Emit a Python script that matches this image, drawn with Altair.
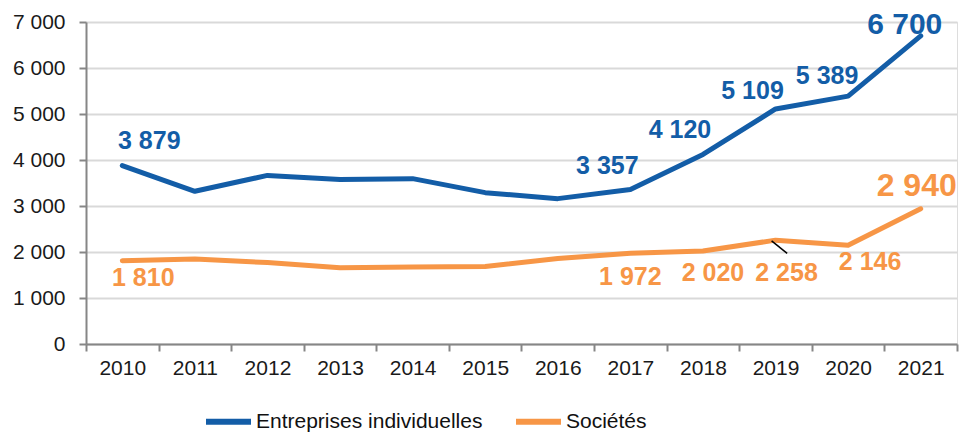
import altair as alt
import pandas as pd

# ---- data ----
years = [str(y) for y in range(2010, 2022)]
entreprises = [3879, 3320, 3665, 3575, 3595, 3290, 3160, 3357, 4120, 5109, 5389, 6700]
societes = [1810, 1850, 1770, 1660, 1675, 1685, 1860, 1972, 2020, 2258, 2146, 2940]
series_names = ["Entreprises individuelles", "Sociétés"]
series_colors = ["#135da7", "#f79646"]
y_ticks = [0, 1000, 2000, 3000, 4000, 5000, 6000, 7000]
labelled_ent = ["2010", "2017", "2018", "2019", "2020", "2021"]
labelled_soc = ["2010", "2017", "2018", "2019", "2020", "2021"]

rows = []
for name, vals in zip(series_names, [entreprises, societes]):
    for y, v in zip(years, vals):
        rows.append({"year": y, "value": v, "series": name,
                     "label": f"{v:,}".replace(",", " ")})
df = pd.DataFrame(rows)

FONT = "Liberation Sans"

# label placement (style, not data)
offsets = {
    (series_names[0], "2010"): (27, -25, 25),
    (series_names[0], "2017"): (-23, -24, 25),
    (series_names[0], "2018"): (-23, -24, 25),
    (series_names[0], "2019"): (-23, -18, 25),
    (series_names[0], "2020"): (-21, -20, 25),
    (series_names[0], "2021"): (-16, -11, 30),
    (series_names[1], "2010"): (21, 17, 25),
    (series_names[1], "2017"): (0, 24, 25),
    (series_names[1], "2018"): (10, 22, 25),
    (series_names[1], "2019"): (11, 33, 25),
    (series_names[1], "2020"): (22, 17, 25),
    (series_names[1], "2021"): (-4, -23, 32),
}

color_scale = alt.Scale(domain=series_names, range=series_colors)

base = alt.Chart(df)

lines = base.mark_line(strokeWidth=5, strokeCap="round", strokeJoin="round").encode(
    x=alt.X("year:O",
            scale=alt.Scale(paddingInner=0, paddingOuter=0),
            axis=alt.Axis(title=None, labelAngle=0, tickBand="extent",
                          tickSize=7, tickColor="#868686", tickWidth=2,
                          domainColor="#868686", domainWidth=2,
                          labelFont=FONT, labelFontSize=21, labelColor="#1a1a1a",
                          labelPadding=6, grid=False)),
    y=alt.Y("value:Q",
            scale=alt.Scale(domain=[0, 7000], nice=False),
            axis=alt.Axis(title=None, values=y_ticks,
                          labelExpr="replace(format(datum.value, ',d'), ',', ' ')",
                          tickSize=7, tickColor="#868686", tickWidth=2,
                          domainColor="#868686", domainWidth=2,
                          gridColor="#d9d9d9", gridWidth=2,
                          labelFont=FONT, labelFontSize=21, labelColor="#1a1a1a",
                          labelPadding=14)),
    color=alt.Color("series:N", scale=color_scale,
                    legend=alt.Legend(title=None, orient="none", direction="horizontal",
                                      legendX=117, legendY=374,
                                      symbolType="stroke", symbolSize=2025,
                                      symbolStrokeWidth=6, labelLimit=400,
                                      labelFont=FONT, labelFontSize=21, labelColor="#111111",
                                      labelOffset=2, columnPadding=21)),
)

layers = [lines]
for name, col, yrs in [(series_names[0], series_colors[0], labelled_ent),
                       (series_names[1], series_colors[1], labelled_soc)]:
    for yr in yrs:
        dx, dy, fs = offsets[(name, yr)]
        layers.append(
            base.transform_filter(
                (alt.datum.series == name) & (alt.datum.year == yr)
            ).mark_text(dx=dx, dy=dy, fontSize=fs, fontWeight="bold", font=FONT,
                        color=col, align="center", baseline="middle").encode(
                x="year:O", y="value:Q", text="label:N")
        )

# leader line for the 2019 Sociétés label
leader = base.transform_filter(
    (alt.datum.series == series_names[1]) & (alt.datum.year == "2019")
).mark_point(shape="M-0.33,0.06L0.97,1.1", size=576, filled=False,
             stroke="black", strokeWidth=1.5, opacity=1).encode(
    x="year:O", y="value:Q")
layers.append(leader)

chart = alt.layer(*layers).properties(
    width=871, height=322,
    autosize=alt.AutoSizeParams(type="none"),
    padding={"left": 78, "top": 14, "right": 2, "bottom": 89},
).configure_view(stroke=None).configure(background="white")

chart.save("out.html", embed_options={"renderer": "svg", "actions": False})
